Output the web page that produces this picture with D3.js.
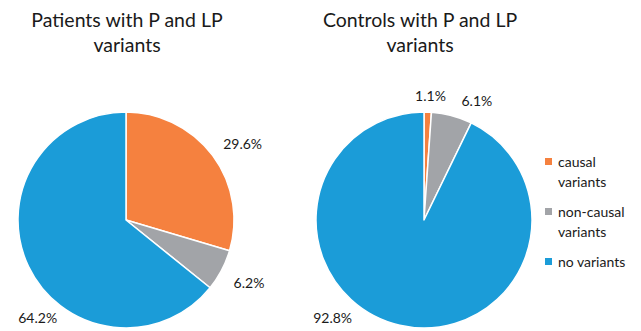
<!DOCTYPE html>
<html>
<head>
<meta charset="utf-8">
<script src="https://cdn.jsdelivr.net/npm/d3@7"></script>
<style>
  html, body { margin: 0; padding: 0; background: #fff; }
  svg { display: block; font-family: Lato, "Open Sans", sans-serif; }
</style>
</head>
<body>
<svg id="chart" width="641" height="331"></svg>
<script>
// Variant categories shared by both pies
const categories = ["causal variants", "non-causal variants", "no variants"];
const legendLines = [["causal", "variants"], ["non-causal", "variants"], ["no variants"]];
const colors = ["#F5813F", "#A2A4A8", "#1B9CD8"];

// Percentages per group
const patientValues = [29.6, 6.2, 64.2];
const controlValues = [1.1, 6.1, 92.8];

const titles = [
  ["Patients with P and LP", "variants"],
  ["Controls with P and LP", "variants"]
];

const svg = d3.select("#chart");
const radius = 108;

const pie = d3.pie().sort(null).value(d => d);
const arc = d3.arc().innerRadius(0).outerRadius(radius);

const color = d3.scaleOrdinal().domain(categories).range(colors);

// Label placement per slice: angle (degrees clockwise from 12 o'clock) and distance from centre,
// nudged away from neighbouring labels and the chart edges
const panels = [
  { cx: 126, cy: 220, titleX: 127, values: patientValues,
    labelAt: [[57, 139], [117, 138], [222, 132]] },
  { cx: 424, cy: 220, titleX: 420, values: controlValues,
    labelAt: [[3, 124], [24, 130], [223, 134]] }
];

panels.forEach((p, i) => {
  const g = svg.append("g").attr("transform", `translate(${p.cx},${p.cy})`);
  const arcs = pie(p.values);

  g.selectAll("path")
    .data(arcs)
    .join("path")
    .attr("d", arc)
    .attr("fill", (d, j) => color(categories[j]))
    .attr("stroke", "#fff")
    .attr("stroke-width", 1.5)
    .attr("stroke-linejoin", "round");

  g.selectAll("text.val")
    .data(arcs)
    .join("text")
    .attr("class", "val")
    .attr("transform", (d, j) => {
      const [deg, r] = p.labelAt[j];
      const a = deg * Math.PI / 180;
      return `translate(${Math.sin(a) * r},${-Math.cos(a) * r})`;
    })
    .attr("text-anchor", "middle")
    .attr("dy", "0.35em")
    .attr("font-size", 14)
    .attr("fill", "#1a1a1a")
    .text(d => d3.format(".1f")(d.data) + "%");

  const t = svg.append("text")
    .attr("x", p.titleX)
    .attr("text-anchor", "middle")
    .attr("font-size", 19.5)
    .attr("fill", "#1a1a1a");
  titles[i].forEach((line, k) => {
    t.append("tspan").attr("x", p.titleX).attr("y", 27 + k * 25).text(line);
  });
});

// Legend
const legend = svg.append("g").attr("transform", "translate(545,158)");
const rowOffsets = [0, 50, 100];
categories.forEach((c, i) => {
  const row = legend.append("g").attr("transform", `translate(0,${rowOffsets[i]})`);
  row.append("rect").attr("width", 7).attr("height", 7).attr("fill", color(c));
  const txt = row.append("text").attr("x", 13).attr("font-size", 14).attr("fill", "#1a1a1a");
  legendLines[i].forEach((l, k) => {
    txt.append("tspan").attr("x", 13).attr("y", 9 + k * 20).text(l);
  });
});
</script>
</body>
</html>
